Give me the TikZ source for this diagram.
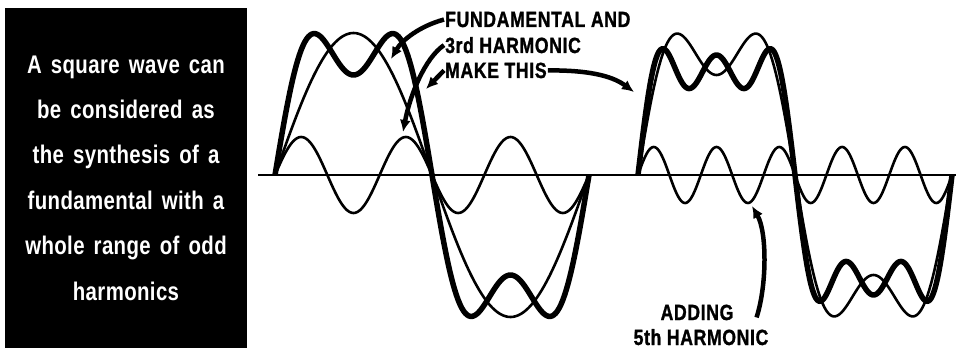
\documentclass[tikz,border=0pt]{standalone}
\usepackage{fontspec}
\newfontfamily\notefont{Liberation Sans}[FakeStretch=0.8,WordSpace=1.5,LetterSpace=1.5]
\newfontfamily\labelfont{Liberation Sans}[FakeStretch=0.8,LetterSpace=3,FakeBold=1.2]
\usetikzlibrary{arrows.meta, positioning}

\begin{document}
\begin{tikzpicture}[x=1pt, y=-1pt,
  notebox/.style={fill=black, text=white, minimum width=242pt, minimum height=340pt, align=center, inner sep=0pt,
    font=\notefont\bfseries\fontsize{25.5}{45.4}\selectfont},
  lbl/.style={font=\labelfont\bfseries\fontsize{22}{25}\selectfont, inner sep=1pt},
  thinwave/.style={line width=2.6pt, line join=round},
  thickwave/.style={line width=5.5pt, line join=round},
  callout/.style={line width=4.5pt, -{Latex[length=12pt,width=11pt]}}]
  \useasboundingbox (0,0) rectangle (958,350);

  % explanation panel
  \node[notebox] (note) at (126,178) {A square wave can\\be considered as\\the synthesis of a\\fundamental with a\\whole range of odd\\harmonics};

  % axis
  \draw[line width=2pt] (258,175) -- (956,175);

  % fundamental and 3rd harmonic
  \draw[thinwave] plot[domain=0:360, samples=121] ({275+314*(\x/360)}, {175-142*sin(\x)});
  \draw[thinwave] plot[domain=0:360, samples=181] ({275+314*(\x/360)}, {175-38*sin(3*\x)});
  \draw[thickwave] plot[domain=0:360, samples=181] ({275+314*(\x/360)}, {175-150*(sin(\x)+sin(3*\x)/3)});

  % adding the 5th harmonic
  \draw[thinwave] plot[domain=0:360, samples=181] ({638+314*(\x/360)}, {175-150*(sin(\x)+sin(3*\x)/3)});
  \draw[thinwave] plot[domain=0:360, samples=241] ({638+314*(\x/360)}, {175-28*sin(5*\x)});
  \draw[thickwave] plot[domain=0:360, samples=241] ({638+314*(\x/360)}, {175-132*(sin(\x)+sin(3*\x)/3)-32*sin(5*\x)});

  % points the callouts aim at
  \coordinate (fundpt) at (391,59);
  \coordinate (thirdpt) at (403,132);
  \coordinate (sumpt) at (426,89);
  \coordinate (edgept) at (634,92);
  \coordinate (fifthpt) at (752,206);

  % labels
  \node[lbl, anchor=base west] (fund) at (444,27) {FUNDAMENTAL AND};
  \node[lbl, anchor=base west] (third) at (444,53) {3rd HARMONIC};
  \node[lbl, anchor=base west] (make) at (444,78) {MAKE THIS};
  \node[lbl, anchor=base] (adding) at (697,320) {ADDING};
  \node[lbl, anchor=base] (fifth) at (701,345) {5th HARMONIC};

  \draw[callout] (fund.west) .. controls (420,26) and (402,40) .. (fundpt);
  \draw[callout] (third.west) .. controls (425,58) and (410,95) .. (thirdpt);
  \draw[callout] (make.west) -- (sumpt);
  \draw[callout] (make.east) .. controls (595,70) and (615,78) .. (edgept);
  \draw[callout] ([shift={(22,5)}]adding.east) .. controls (767,285) and (767,232) .. (fifthpt);
\end{tikzpicture}
\end{document}
